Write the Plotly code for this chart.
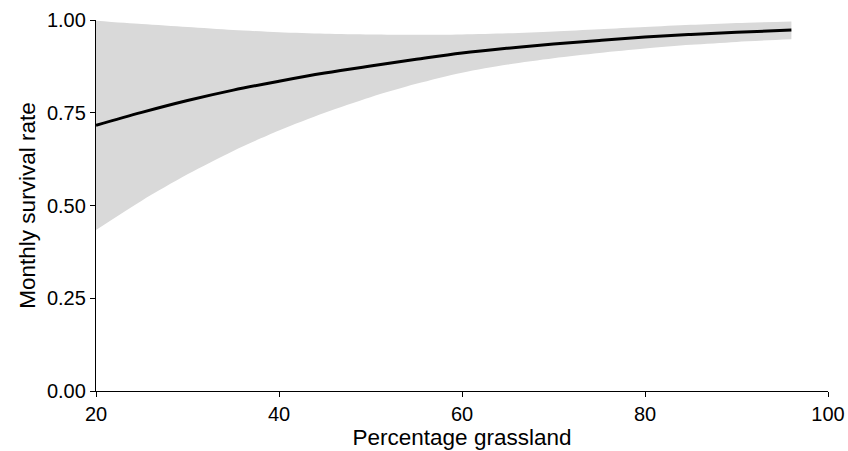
import plotly.graph_objects as go

grass = [20, 25, 30, 35, 40, 45, 50, 55, 60, 65, 70, 75, 80, 85, 90, 96]
survival = [0.716, 0.751, 0.783, 0.811, 0.835, 0.857, 0.876, 0.894, 0.911, 0.924, 0.935, 0.945, 0.954, 0.961, 0.967, 0.973]
upper = [0.998, 0.989, 0.981, 0.973, 0.967, 0.963, 0.961, 0.960, 0.961, 0.964, 0.969, 0.975, 0.981, 0.987, 0.992, 0.996]
lower = [0.434, 0.513, 0.584, 0.647, 0.702, 0.750, 0.792, 0.828, 0.858, 0.880, 0.897, 0.911, 0.923, 0.933, 0.941, 0.948]

x_ticks = [20, 40, 60, 80, 100]
y_ticks = [0.0, 0.25, 0.5, 0.75, 1.0]
y_labels = ["0.00", "0.25", "0.50", "0.75", "1.00"]

FONT = "Liberation Sans, Arial"

fig = go.Figure()
fig.add_trace(go.Scatter(x=grass, y=upper, mode="lines", line=dict(width=0, shape="spline", smoothing=0.8),
                         hoverinfo="skip", showlegend=False))
fig.add_trace(go.Scatter(x=grass, y=lower, mode="lines", line=dict(width=0, shape="spline", smoothing=0.8),
                         fill="tonexty", fillcolor="#d9d9d9", hoverinfo="skip", showlegend=False))
fig.add_trace(go.Scatter(x=grass, y=survival, mode="lines",
                         line=dict(color="black", width=3, shape="spline"), showlegend=False))

axis_common = dict(showline=True, linecolor="black", linewidth=1.3, ticks="outside",
                   ticklen=5, tickcolor="black", tickwidth=1.3, showgrid=False, zeroline=False,
                   automargin=False,
                   tickfont=dict(family=FONT, size=20, color="black"))

fig.update_xaxes(range=[20, 100], tickvals=x_ticks,
                 title=dict(text="Percentage grassland", font=dict(family=FONT, size=22.5, color="black"), standoff=4),
                 **axis_common)
fig.update_yaxes(range=[0, 1], tickvals=y_ticks, ticktext=y_labels,
                 title=dict(text="Monthly survival rate", font=dict(family=FONT, size=22.5, color="black"), standoff=5),
                 **axis_common)

fig.update_layout(width=848, height=451, margin=dict(l=96, r=20, t=20, b=60),
                  plot_bgcolor="white", paper_bgcolor="white")

fig.write_html("out.html", config={"displayModeBar": False},
               post_script="document.body.style.margin='0';document.body.style.overflow='hidden';")
